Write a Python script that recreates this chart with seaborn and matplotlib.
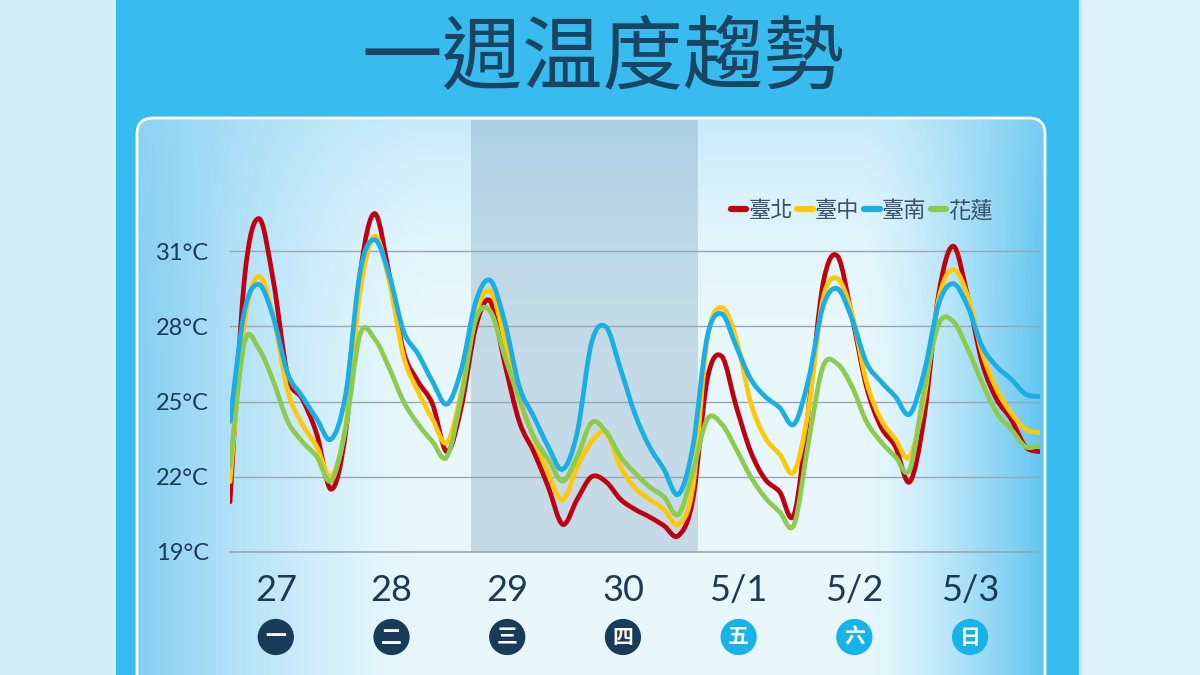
import numpy as np
import pandas as pd
import matplotlib
matplotlib.use("Agg")
import matplotlib.pyplot as plt
from matplotlib.patches import FancyBboxPatch, Rectangle, PathPatch
from matplotlib.path import Path
from matplotlib.lines import Line2D
import seaborn as sns

# 每3小時一筆
hours = np.arange(0, 169, 3)
taipei = [21.0, 29.9, 32.3, 29.8, 26.0, 25.1, 23.7, 21.5, 23.8, 30.1,
          32.5, 30.1, 27.0, 25.8, 24.9, 23.0, 24.8, 28.0, 29.0, 26.5,
          24.2, 23.0, 21.6, 20.1, 21.1, 22.0, 21.8, 21.1, 20.7, 20.4,
          20.05, 19.65, 21.1, 25.9, 26.8, 24.8, 23.0, 21.9, 21.4, 20.5,
          24.7, 29.7, 30.8, 28.4, 25.6, 24.0, 23.2, 21.8, 24.4, 29.3,
          31.2, 29.2, 26.55, 25.1, 24.3, 23.2, 23.0]
taichung = [21.8, 28.1, 30.0, 28.35, 25.4, 24.1, 23.2, 22.0, 24.1, 29.4,
            31.6, 29.8, 26.8, 25.4, 24.3, 23.36, 25.4, 28.5, 29.4, 27.5,
            25.1, 23.56, 22.16, 21.07, 22.4, 23.4, 23.76, 22.4, 21.55, 21.1,
            20.7, 20.1, 21.6, 27.5, 28.75, 27.5, 24.96, 23.56, 22.9, 22.2,
            24.7, 29.1, 29.9, 28.5, 25.8, 24.3, 23.5, 22.8, 25.2, 29.1,
            30.27, 29.2, 26.95, 25.5, 24.55, 23.9, 23.76]
tainan = [24.2, 28.6, 29.67, 28.35, 26.1, 25.2, 24.3, 23.5, 25.3, 30.2,
          31.46, 30.07, 27.8, 26.9, 25.8, 24.9, 26.3, 29.0, 29.83, 28.16,
          25.6, 24.4, 23.2, 22.3, 23.76, 27.36, 27.97, 26.3, 24.5, 23.2,
          22.3, 21.3, 23.2, 27.6, 28.5, 27.2, 25.9, 25.2, 24.76, 24.1,
          25.9, 28.8, 29.5, 28.3, 26.55, 25.8, 25.2, 24.5, 26.2, 28.9,
          29.7, 28.8, 27.2, 26.4, 25.9, 25.3, 25.2]
hualien = [22.4, 27.35, 27.1, 25.8, 24.2, 23.4, 22.8, 21.84, 23.96, 27.7,
           27.5, 26.35, 25.0, 24.1, 23.4, 22.8, 25.2, 28.3, 28.6, 26.8,
           25.1, 23.6, 22.7, 21.83, 22.8, 24.16, 23.8, 22.8, 22.15, 21.6,
           21.2, 20.5, 22.2, 24.3, 24.1, 23.1, 22.0, 21.17, 20.6, 20.1,
           23.4, 26.4, 26.5, 25.6, 24.2, 23.4, 22.8, 22.3, 25.5, 28.1,
           28.2, 27.1, 25.75, 24.55, 23.9, 23.2, 23.25]

cities = ['臺北', '臺中', '臺南', '花蓮']
colors = ['#c1000f', '#ffc80c', '#19aee6', '#8ccb4e']
draw_order = ['臺北', '臺中', '花蓮', '臺南']
y_ticks = [19, 22, 25, 28, 31]
day_labels = ['27', '28', '29', '30', '5/1', '5/2', '5/3']
day_hours = [9.5, 33.5, 57.5, 81.5, 105.5, 129.5, 153.5]
weekdays = ['一', '二', '三', '四', '五', '六', '日']
weekday_colors = ['#173b58'] * 4 + ['#16b3ea'] * 3
shade_start, shade_end = 50, 97

df = pd.DataFrame({'hour': np.tile(hours, 4),
                   'temp': taipei + taichung + tainan + hualien,
                   'city': np.repeat(cities, len(hours))})


def smooth_path(x, y):
    # 平滑曲線 (Catmull-Rom 轉 Bezier)，曲線仍通過每個資料點
    pts = np.column_stack([x, y])
    ext = np.vstack([pts[0], pts, pts[-1]])
    verts = [pts[0]]
    codes = [Path.MOVETO]
    for i in range(len(pts) - 1):
        p0, p1, p2, p3 = ext[i], ext[i + 1], ext[i + 2], ext[i + 3]
        verts += [p1 + (p2 - p0) / 6, p2 - (p3 - p1) / 6, p2]
        codes += [Path.CURVE4] * 3
    return Path(verts, codes)


sns.set_style('white')
plt.rcParams['font.family'] = ['Noto Sans CJK TC', 'DejaVu Sans']

fig = plt.figure(figsize=(12, 6.75), dpi=100)

# 背景
bg = fig.add_axes([0, 0, 1, 1])
bg.axis('off')
bg.add_patch(Rectangle((0, 0), 115, 675, color='#d3edf9', zorder=0))
bg.add_patch(Rectangle((1080, 0), 120, 675, color='#ddf1fa', zorder=0))
bg.add_patch(Rectangle((115, 0), 965, 675, color='#38bcf0', zorder=0))
bg.plot([115, 115], [0, 675], color='white', lw=1.2, alpha=0.8)
bg.plot([1080, 1080], [0, 675], color='white', lw=1.2, alpha=0.8)

# 面板漸層
W, H = 400, 200
t = np.linspace(0, 1, W)[None, :]
v = np.linspace(0, 1, H)[:, None]
light = np.array([0.91, 0.97, 0.99])
edge_l = np.array([0.52, 0.81, 0.95])
edge_r = np.array([0.38, 0.77, 0.94])
wl = np.clip(1 - t / 0.32, 0, 1) ** 1.5
wr = np.clip((t - 0.8) / 0.2, 0, 1) ** 1.4
wt = np.clip(1 - v / 0.4, 0, 1) ** 2 * 0.4
grad = light[None, None, :] * np.ones((H, W, 1))
for w, c in [(wl, edge_l), (wr, edge_r)]:
    w3 = np.broadcast_to(w, (H, W))[..., None]
    grad = grad * (1 - w3) + c * w3
wt3 = np.broadcast_to(wt, (H, W))[..., None]
grad = grad * (1 - wt3) + np.array([0.60, 0.85, 0.96]) * wt3
panel = FancyBboxPatch((137, 118), 908, 600, boxstyle='round,pad=0,rounding_size=16',
                       facecolor='none', edgecolor='white', lw=2, zorder=3)
bg.add_patch(panel)
im = bg.imshow(grad, extent=(137, 1045, 718, 118), origin='upper', aspect='auto', zorder=1)
im.set_clip_path(panel)
bg.set_xlim(0, 1200)
bg.set_ylim(675, 0)

bg.text(603, 60, '一週温度趨勢', ha='center', va='center', fontsize=58,
        fontweight='light', color='#1b4462')

# 主圖
ax = fig.add_axes([230 / 1200, (675 - 552) / 675, 810 / 1200, (552 - 120) / 675])
ax.patch.set_alpha(0)
ax.axvspan(shade_start, shade_end, color='#35688f', alpha=0.2, lw=0, zorder=0)

sns.lineplot(data=df, x='hour', y='temp', hue='city', hue_order=draw_order,
             palette=dict(zip(cities, colors)), linewidth=3.4, legend=False,
             sort=False, ax=ax)
for k, ln in enumerate(list(ax.lines)):
    xs, ys = ln.get_xdata(), ln.get_ydata()
    ax.add_patch(PathPatch(smooth_path(xs, ys), fill=False, edgecolor=ln.get_color(),
                           lw=3.4, capstyle='round', joinstyle='round', zorder=3 + k * 0.01))
    ln.set_visible(False)

ax.set_xlim(0, 168)
ax.set_ylim(19, 19 + (552 - 120) / 25.07)
ax.set_yticks(y_ticks, [f'{v}°C' for v in y_ticks])
ax.set_xticks(day_hours, day_labels)
ax.tick_params(axis='y', length=0, pad=15, labelsize=17, labelcolor='#1f3a52')
ax.tick_params(axis='x', length=0, pad=16, labelsize=26, labelcolor='#1d3a55')
for lab in ax.get_yticklabels() + ax.get_xticklabels():
    lab.set_fontfamily(['Lato', 'DejaVu Sans'])
ax.yaxis.grid(True, color='#9aa7b2', lw=1)
ax.xaxis.grid(False)
ax.axhline(19, color='#9aa7b2', lw=1.2, clip_on=False)
sns.despine(ax=ax, left=True, bottom=True)
ax.set_xlabel('')
ax.set_ylabel('')

# 星期圓圈
cy = -(637 - 552) / (552 - 120)
ax.scatter(day_hours, [cy] * 7, s=680, c=weekday_colors, lw=0,
           transform=ax.get_xaxis_transform(), clip_on=False, zorder=5)
for h, wd in zip(day_hours, weekdays):
    ax.text(h, cy, wd, transform=ax.get_xaxis_transform(), ha='center', va='center',
            color='white', fontsize=15, fontweight='bold', zorder=6)

handles = [Line2D([0], [0], color=c, lw=4.5) for c in colors]
ax.legend(handles, cities, ncol=4, loc='center right', bbox_to_anchor=(0.953, 0.79),
          frameon=False, handlelength=0.7, handletextpad=0.1, columnspacing=0.2,
          fontsize=16, labelcolor='#3c5068', borderaxespad=0)

fig.savefig('out.png', dpi=100)
